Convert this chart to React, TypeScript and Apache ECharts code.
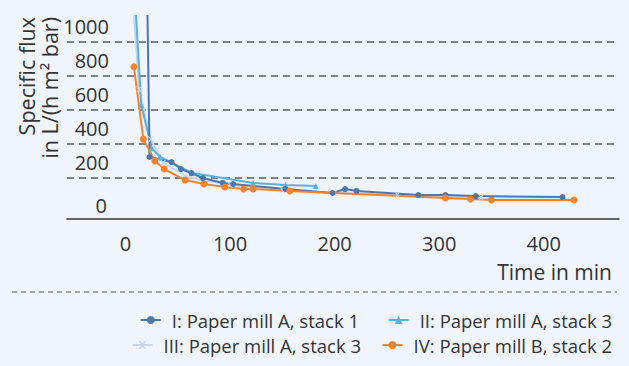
import React, { useEffect, useRef } from "react";
import * as echarts from "echarts";

const seriesNames = [
  "I: Paper mill A, stack 1",
  "II: Paper mill A, stack 3",
  "III: Paper mill A, stack 3",
  "IV: Paper mill B, stack 2",
];

const timeI = [21, 23, 44, 53, 63, 74, 93, 103, 153, 198, 210, 221, 280, 306, 335, 418];
const fluxI = [1160, 324, 294, 253, 229, 200, 171, 165, 135, 112, 135, 124, 100, 100, 94, 88];

const timeII = [10, 15, 25, 33, 64, 122, 153, 182];
const fluxII = [1160, 629, 376, 324, 229, 171, 159, 153];

const timeIII = [8, 13, 24, 36, 60, 100, 150, 200, 260, 340];
const fluxIII = [1160, 723, 429, 290, 205, 160, 130, 112, 100, 85];

const timeIV = [8, 17, 28, 37, 57, 75, 95, 113, 122, 157, 306, 330, 350, 429];
const fluxIV = [855, 429, 300, 253, 188, 165, 147, 135, 135, 124, 82, 76, 71, 71];

const yTicks = [0, 200, 400, 600, 800, 1000];
const xTicks = [0, 100, 200, 300, 400];

const FONT = "'Open Sans', 'Noto Sans', sans-serif";
const colors = ["#4a77b0", "#5bb1de", "#c3d5f1", "#f5832b"];
const crossPath =
  "path://M0,0 L2,0 L5,3 L8,0 L10,0 L6,5 L10,10 L8,10 L5,7 L2,10 L0,10 L4,5 Z";

function pairs(t: number[], v: number[]) {
  return t.map((x, i) =>
    v[i] > 1000 ? { value: [x, v[i]], symbol: "none" } : { value: [x, v[i]] }
  );
}

export default function App() {
  const ref = useRef<HTMLDivElement>(null);
  useEffect(() => {
    document.body.style.margin = "0";
    const chart = echarts.init(ref.current!, undefined, { renderer: "svg" });
    const mkLegend = (name: string, right: number, top: number) => ({
      data: [name],
      right,
      top,
      padding: 0,
      itemWidth: 20,
      itemHeight: 10,
      selectedMode: false,
      textStyle: {
        fontFamily: FONT,
        fontSize: 18.5,
        lineHeight: 20,
        color: "#333",
        padding: [0, 0, 0, 6],
      },
    });
    chart.setOption({
      animation: false,
      backgroundColor: "#f0f4fc",
      grid: { left: 67, right: 10, top: 15, bottom: 154 },
      xAxis: {
        type: "value",
        min: -56,
        max: 472,
        offset: 7,
        axisLine: { show: true, onZero: false, lineStyle: { color: "#333", width: 1.5 } },
        axisTick: { show: false },
        splitLine: { show: false },
        axisLabel: {
          margin: 14,
          fontFamily: FONT,
          fontSize: 20,
          color: "#333",
          formatter: (v: number) => (xTicks.includes(v) ? String(v) : ""),
        },
      },
      yAxis: {
        type: "value",
        min: 0,
        max: 1160,
        interval: 200,
        axisLine: { show: false },
        axisTick: { show: false },
        splitLine: {
          show: true,
          showMinLine: false,
          showMaxLine: false,
          lineStyle: { color: "#5a5b61", width: 1.6, type: [7, 5] },
        },
        axisLabel: {
          inside: true,
          margin: 42,
          align: "right",
          showMaxLabel: false,
          fontFamily: FONT,
          fontSize: 20,
          color: "#333",
          formatter: (v: number) =>
            yTicks.includes(v) ? (v === 0 ? `{z|${v}}` : `{a|${v}}`) : "",
          rich: {
            a: { fontFamily: FONT, fontSize: 20, color: "#333", padding: [0, 0, 32, 0] },
            z: { fontFamily: FONT, fontSize: 20, color: "#333", padding: [0, 2, 14, 0] },
          },
        },
      },
      legend: [
        mkLegend(seriesNames[0], 270, 310),
        mkLegend(seriesNames[1], 17, 310),
        mkLegend(seriesNames[2], 268, 335),
        mkLegend(seriesNames[3], 17, 335),
      ],
      graphic: [
        {
          type: "text",
          x: 38,
          y: 17,
          rotation: Math.PI / 2,
          style: {
            text: "Specific flux\nin L/(h m\u00b2 bar)",
            align: "right",
            verticalAlign: "middle",
            fontFamily: FONT,
            fontSize: 21.5,
            lineHeight: 23,
            fill: "#333",
          },
        },
        {
          type: "text",
          x: 612,
          y: 272,
          style: {
            text: "Time in min",
            align: "right",
            verticalAlign: "middle",
            fontFamily: FONT,
            fontSize: 21,
            fill: "#333",
          },
        },
        {
          type: "line",
          shape: { x1: 12, y1: 292, x2: 617, y2: 292 },
          style: { stroke: "#555", lineWidth: 1, lineDash: [5, 4] },
        },
      ],
      series: [
        {
          name: seriesNames[2],
          type: "line",
          data: pairs(timeIII, fluxIII),
          symbol: crossPath,
          symbolSize: 6,
          color: colors[2],
          lineStyle: { width: 2, color: colors[2] },
          itemStyle: { color: colors[2] },
        },
        {
          name: seriesNames[1],
          type: "line",
          data: pairs(timeII, fluxII),
          symbol: "triangle",
          symbolSize: 6,
          color: colors[1],
          lineStyle: { width: 2, color: colors[1] },
          itemStyle: { color: colors[1] },
        },
        {
          name: seriesNames[0],
          type: "line",
          data: pairs(timeI, fluxI),
          symbol: "circle",
          symbolSize: 6,
          color: colors[0],
          lineStyle: { width: 2, color: colors[0] },
          itemStyle: { color: colors[0] },
        },
        {
          name: seriesNames[3],
          type: "line",
          data: pairs(timeIV, fluxIV),
          symbol: "circle",
          symbolSize: 7,
          color: colors[3],
          lineStyle: { width: 2, color: colors[3] },
          itemStyle: { color: colors[3] },
        },
      ],
    });
    return () => chart.dispose();
  }, []);
  return (
    <div
      ref={ref}
      style={{ position: "fixed", left: 0, top: 0, width: 629, height: 366 }}
    />
  );
}
